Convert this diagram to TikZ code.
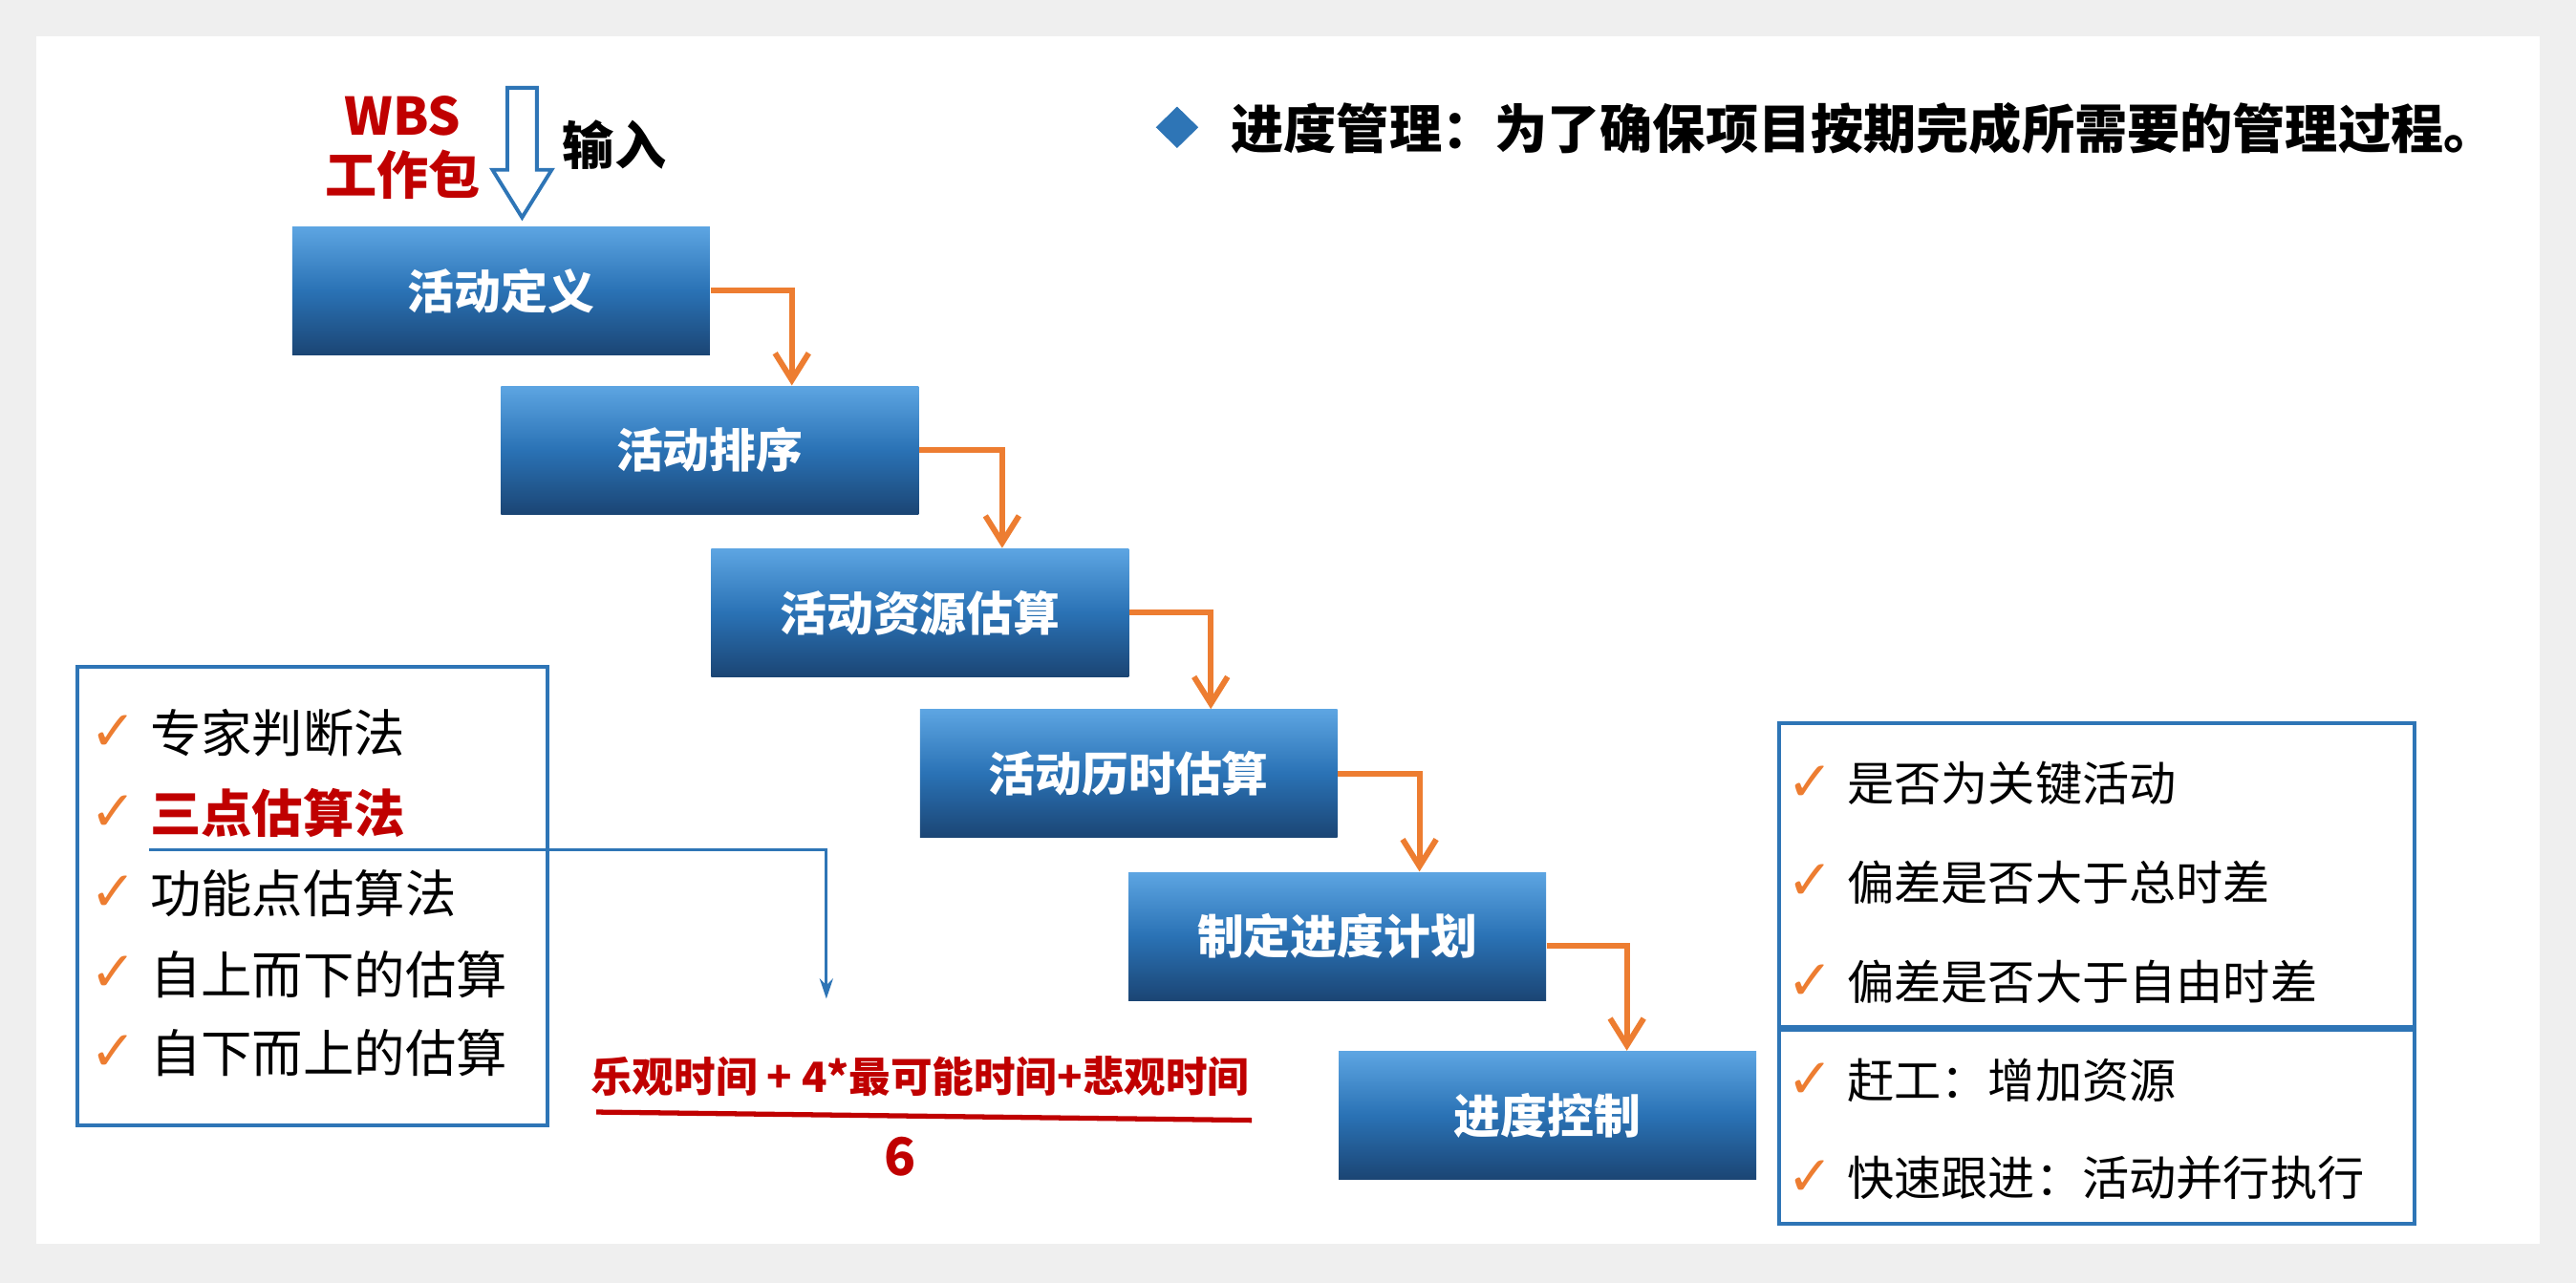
\documentclass[tikz,border=0pt]{standalone}
\usepackage{fontspec}
\setmainfont{Noto Sans CJK SC}
\newfontfamily\symfont{DejaVu Sans}
\usepackage{xcolor}
\usetikzlibrary{positioning, arrows.meta, shapes.geometric, calc}

\definecolor{steplight}{HTML}{5DA5E2}
\definecolor{stepmid}{HTML}{2A72B5}
\definecolor{stepdark}{HTML}{1B4574}
\definecolor{floworange}{HTML}{ED7D31}
\definecolor{framblue}{HTML}{2E75B6}
\definecolor{darkred}{HTML}{C00000}
\definecolor{pagegray}{HTML}{EFEFEF}

\begin{document}
\begin{tikzpicture}[
  x=0.017194cm, y=-0.017194cm,
  stepbox/.style={minimum width=4.37cm, minimum height=1.34cm, inner sep=0pt,
                  top color=steplight, bottom color=stepdark, middle color=stepmid,
                  text=white, font=\fontsize{13.9}{16}\selectfont\bfseries},
  flow/.style={draw=floworange, line width=1.7pt, -{Straight Barb[length=8pt, width=10pt, line width=1.7pt]}},
  hint/.style={draw=framblue, line width=0.9pt, -{Stealth[length=6pt, width=4pt]}},
  frame/.style={draw=framblue, line width=1.1pt, fill=white, inner sep=0pt},
  item/.style={anchor=west, inner sep=0pt, font=\fontsize{14}{17}\selectfont},
  bigitem/.style={anchor=west, inner sep=0pt, font=\fontsize{15.2}{18}\selectfont},
  chk/.style={font=\symfont\fontsize{16.5}{18}\selectfont, text=floworange, inner sep=0pt},
  label distance=0.13cm,
  bigtxt/.style={font=\fontsize{15.4}{17.5}\selectfont\bfseries, inner sep=0pt}
]
\useasboundingbox (0,0) rectangle (1568,781);
\fill[pagegray] (0,0) rectangle (1568,781);
\fill[white] (22,22) rectangle (1546,757);

% title
\node[diamond, fill=framblue, minimum width=0.45cm, minimum height=0.44cm, inner sep=0pt] (dia) at (716.5,77.5) {};
\node[bigtxt, anchor=west, font=\fontsize{15.7}{18}\selectfont\bfseries] (title) at (749,78) {进度管理：为了确保项目按期完成所需要的管理过程。};

% process steps
\node[stepbox] (d1) at (305,177) {活动定义};
\node[stepbox] (d2) at (432,274) {活动排序};
\node[stepbox] (d3) at (560,373) {活动资源估算};
\node[stepbox] (d4) at (687,471) {活动历时估算};
\node[stepbox] (d5) at (814,570) {制定进度计划};
\node[stepbox] (d6) at (942,679) {进度控制};
\draw[flow] (d1.east) -| ([xshift=0.86cm]d2.north);
\draw[flow] (d2.east) -| ([xshift=0.86cm]d3.north);
\draw[flow] (d3.east) -| ([xshift=0.86cm]d4.north);
\draw[flow] (d4.east) -| ([xshift=0.86cm]d5.north);
\draw[flow] ([yshift=-0.1cm]d5.east) -| ([xshift=0.83cm]d6.north);

% input
\node[bigtxt, text=darkred, align=center] (wbs) at (245,90) {WBS\\工作包};
\node[bigtxt] (input) at (374,88) {输入};
\coordinate (tip) at ([xshift=0.22cm, yshift=0.09cm]d1.north);
\draw[draw=framblue, line width=1.1pt, fill=white, line join=miter]
  (tip) -- ++(18,-29) -- ++(-9,0) -- ++(0,-50) -- ++(-18,0) -- ++(0,50) -- ++(-9,0) -- cycle;

% estimating methods
\node[frame, minimum width=4.92cm, minimum height=4.8cm] (lbox) at (190,545.5) {};
\node[bigitem, label={[chk]left:✓}] (m1) at (91,446) {专家判断法};
\node[bigitem, label={[chk]left:✓}, text=darkred, font=\fontsize{15.2}{18}\selectfont\bfseries] (m2) at (91,495) {三点估算法};
\node[bigitem, label={[chk]left:✓}] (m3) at (91,544) {功能点估算法};
\node[bigitem, label={[chk]left:✓}] (m4) at (91,593) {自上而下的估算};
\node[bigitem, label={[chk]left:✓}] (m5) at (91,641) {自下而上的估算};

% three point formula
\coordinate (hintend) at (503,608);
\draw[hint] ([yshift=-0.12cm]m2.south west) -| (hintend);
\node[font=\fontsize{12.4}{15}\selectfont\bfseries, text=darkred, inner sep=0pt] (num) at (560,655) {乐观时间 + 4*最可能时间+悲观时间};
\draw[darkred, line width=1.5pt] (363,677) -- (762,682);
\node[font=\fontsize{15.5}{18}\selectfont\bfseries, text=darkred, inner sep=0pt] (den) at (548,704) {6};

% control checks
\node[frame, minimum width=6.65cm, minimum height=3.18cm] (cbox) at (1276.5,532.5) {};
\node[frame, minimum width=6.65cm, minimum height=2.03cm, below=0pt of cbox] (abox) {};
\node[item, label={[chk]left:✓}] (c1) at (1124,477) {是否为关键活动};
\node[item, label={[chk]left:✓}] (c2) at (1124,537) {偏差是否大于总时差};
\node[item, label={[chk]left:✓}] (c3) at (1124,598) {偏差是否大于自由时差};
\node[item, label={[chk]left:✓}] (a1) at (1124,658) {赶工：增加资源};
\node[item, label={[chk]left:✓}] (a2) at (1124,717) {快速跟进：活动并行执行};
\end{tikzpicture}
\end{document}
